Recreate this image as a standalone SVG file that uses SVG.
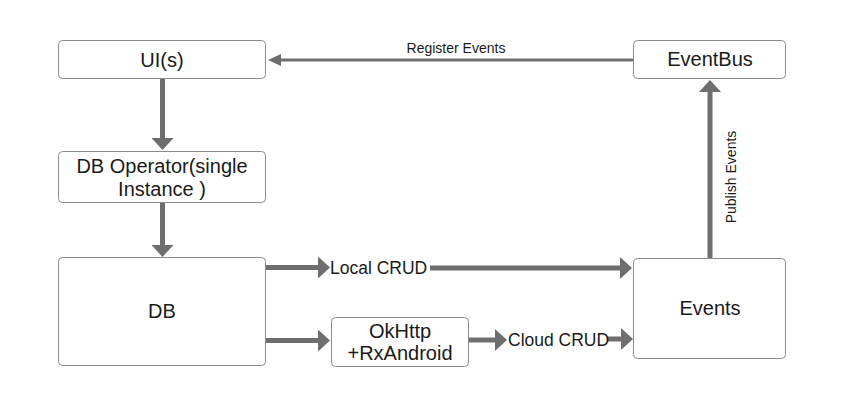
<svg xmlns="http://www.w3.org/2000/svg" width="860" height="420" viewBox="0 0 860 420">
<defs>
<style>
.box{fill:#fff;stroke:#8c8c8c;stroke-width:1}
.lbl{font-family:"Liberation Sans",Arial,sans-serif;font-size:20px;fill:#1a1a1a;text-anchor:middle}
.elbl{font-family:"Liberation Sans",Arial,sans-serif;font-size:17.5px;fill:#1a1a1a}
.slbl{font-family:"Liberation Sans",Arial,sans-serif;font-size:14px;fill:#1a1a1a;text-anchor:middle}
.c{stroke:#6e6e6e;stroke-width:5;fill:none}
.cs{stroke:#6e6e6e;stroke-width:3;fill:none}
</style>
<marker id="ah" markerUnits="userSpaceOnUse" viewBox="0 0 12 22" refX="0" refY="11" markerWidth="12" markerHeight="22" orient="auto">
<path d="M0,0 L12,11 L0,22 Z" fill="#6e6e6e"/>
</marker>
<marker id="ahs" markerUnits="userSpaceOnUse" viewBox="0 0 13 12" refX="0" refY="6" markerWidth="13" markerHeight="12" orient="auto">
<path d="M0,0 L13,6 L0,12 Z" fill="#6e6e6e"/>
</marker>
</defs>
<rect width="860" height="420" fill="#fff"/>
<g id="connectors">
<line class="c" x1="162.5" y1="79" x2="162.5" y2="138" marker-end="url(#ah)"/>
<line class="c" x1="162.5" y1="203" x2="162.5" y2="245" marker-end="url(#ah)"/>
<line class="c" x1="266" y1="267.5" x2="318" y2="267.5" marker-end="url(#ah)"/>
<line class="c" x1="430" y1="268" x2="620" y2="268" marker-end="url(#ah)"/>
<line class="c" x1="266" y1="340.5" x2="318" y2="340.5" marker-end="url(#ah)"/>
<line class="c" x1="469" y1="340" x2="495" y2="340" marker-end="url(#ah)"/>
<line class="c" x1="607" y1="339" x2="621" y2="339" marker-end="url(#ah)"/>
<line class="c" x1="710" y1="258" x2="710" y2="92" marker-end="url(#ah)"/>
<line class="cs" x1="633" y1="60" x2="281" y2="60" marker-end="url(#ahs)"/>
<text class="slbl" x="456" y="53">Register Events</text>
<text class="slbl" transform="translate(736,177) rotate(-90)">Publish Events</text>
<text class="elbl" x="330" y="273.5">Local CRUD</text>
<text class="elbl" x="508" y="346">Cloud CRUD</text>
</g>
<g id="ui">
<rect class="box" x="58.5" y="40.5" width="207" height="38" rx="4"/>
<text class="lbl" x="162" y="67">UI(s)</text>
</g>
<g id="dboperator">
<rect class="box" x="58.5" y="151.5" width="207" height="51" rx="4"/>
<text class="lbl" x="162" y="173">DB Operator(single</text>
<text class="lbl" x="162" y="196">Instance )</text>
</g>
<g id="db">
<rect class="box" x="58.5" y="257.5" width="207" height="108" rx="4"/>
<text class="lbl" x="162" y="318">DB</text>
</g>
<g id="okhttp">
<rect class="box" x="331.5" y="317.5" width="137" height="49" rx="4"/>
<text class="lbl" x="400" y="338">OkHttp</text>
<text class="lbl" x="400" y="360">+RxAndroid</text>
</g>
<g id="eventbus">
<rect class="box" x="633.5" y="40.5" width="152" height="38" rx="4"/>
<text class="lbl" x="710" y="66">EventBus</text>
</g>
<g id="events">
<rect class="box" x="633.5" y="258.5" width="152" height="100" rx="4"/>
<text class="lbl" x="710" y="315">Events</text>
</g>
</svg>
